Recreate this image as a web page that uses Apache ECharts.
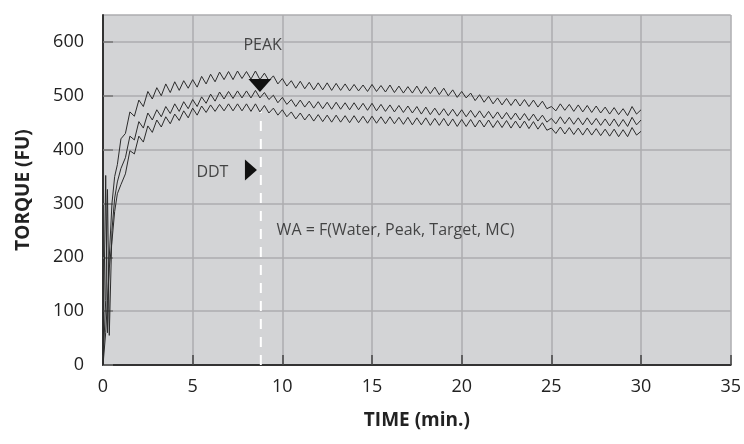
<!DOCTYPE html>
<html><head><meta charset="utf-8">
<script src="https://cdn.jsdelivr.net/npm/echarts@6/dist/echarts.min.js"></script>
<style>html,body{margin:0;padding:0;background:#fff}#c{width:744px;height:444px}</style>
</head><body><div id="c"></div>
<script>
var time = [0,0.15,0.25,0.35,0.5,0.65,0.8,
1,1.25,1.5,1.75,2,2.25,2.5,2.75,3,3.25,3.5,3.75,4,4.25,4.5,4.75,5,5.25,5.5,5.75,6,6.25,6.5,6.75,7,7.25,7.5,7.75,8,8.25,8.5,8.75,9,9.25,9.5,9.75,10,
10.25,10.5,10.75,11,11.25,11.5,11.75,12,12.25,12.5,12.75,13,13.25,13.5,13.75,14,14.25,14.5,14.75,15,15.25,15.5,15.75,16,16.25,16.5,16.75,17,17.25,17.5,17.75,18,18.25,18.5,18.75,19,19.25,19.5,19.75,20,
20.25,20.5,20.75,21,21.25,21.5,21.75,22,22.25,22.5,22.75,23,23.25,23.5,23.75,24,24.25,24.5,24.75,25,25.25,25.5,25.75,26,26.25,26.5,26.75,27,27.25,27.5,27.75,28,28.25,28.5,28.75,29,29.25,29.5,29.75,30];

var torqueHigh = [0,352,60,200,300,350,372,
420,430,470,462,492,480,508,494,515,500,522,506,526,510,528,514,530,516,536,522,540,526,544,530,545,530,546,532,545,531,546,530,542,528,537,522,532,
518,528,514,527,513,525,511,524,511,524,510,523,510,522,509,521,509,520,508,521,508,519,507,520,506,518,505,517,505,518,504,517,504,516,502,514,500,511,497,508,
496,505,491,502,488,499,485,496,483,495,482,494,481,493,480,492,479,490,476,480,472,485,473,484,471,483,470,482,469,481,468,479,466,478,465,476,463,480,466,474];

var torqueMid = [0,120,326,55,250,310,340,
365,385,425,418,452,440,468,455,474,461,480,467,485,471,489,476,493,480,498,486,503,490,507,494,508,495,509,496,509,496,510,496,506,493,501,487,497,
484,493,480,492,479,490,477,489,476,488,475,488,475,487,474,487,474,486,473,486,472,484,471,483,470,482,469,481,468,480,466,479,465,477,464,476,463,475,462,474,
461,473,460,472,459,471,458,470,457,469,456,468,455,467,454,466,453,464,451,458,448,461,448,460,447,459,446,459,446,458,445,457,444,457,443,456,443,460,446,455];

var torqueLow = [0,60,120,180,230,285,318,
335,355,398,392,425,414,444,432,455,442,461,448,466,454,472,459,477,464,481,469,483,471,484,472,485,472,485,472,485,471,485,470,482,468,477,464,474,
461,470,457,468,455,466,453,465,452,464,451,464,451,463,450,463,450,462,449,462,449,461,448,461,448,460,447,460,446,459,446,459,445,458,445,458,444,457,443,456,
443,456,442,455,442,455,441,454,441,454,440,453,440,453,439,452,438,450,436,440,430,442,429,441,428,440,427,440,427,439,426,438,425,438,424,437,424,441,427,434];

var xTicks = [0,5,10,15,20,25,30,35];
var yTicks = [0,100,200,300,400,500,600];

var peakTime = 8.75, peakLevel = 519;
var ddtTime = 8.25, ddtLevel = 362;
var dashTime = 8.8, dashTop = 472;
var notes = [[8.9, 594, 'PEAK', 'center'], [6.1, 358, 'DDT', 'center'], [9.68, 249, 'WA = F(Water, Peak, Target, MC)', 'left']];

function pairs(vals){ return vals.map(function(v,i){ return [time[i], v]; }); }

var FONT = '"Open Sans", "Noto Sans", sans-serif';
var chart = echarts.init(document.getElementById('c'), null, {renderer:'canvas'});
var lineStyle = {color:'#2b2b2b', width:1};
chart.setOption({
  animation:false,
  backgroundColor:'#ffffff',
  grid:{left:103, right:12, top:15, bottom:79, show:true, backgroundColor:'#d3d4d6', borderWidth:0},
  xAxis:{type:'value', min:0, max:35, interval:5,
    name:'TIME (min.)', nameLocation:'middle', nameGap:46,
    nameTextStyle:{fontFamily:FONT, fontSize:19, fontWeight:'bold', color:'#222'},
    axisLine:{show:true, onZero:false, lineStyle:{color:'#333', width:2}},
    axisTick:{show:true, inside:true, length:10, lineStyle:{color:'#444', width:1.5}},
    axisLabel:{fontFamily:FONT, fontSize:18, color:'#222', margin:13},
    splitLine:{show:true, lineStyle:{color:'#acadaf', width:1.5}}
  },
  yAxis:{type:'value', min:0, max:650, interval:100,
    name:'TORQUE (FU)', nameLocation:'middle', nameGap:70, nameRotate:90,
    nameTextStyle:{fontFamily:FONT, fontSize:19, fontWeight:'bold', color:'#222'},
    axisLine:{show:true, onZero:false, lineStyle:{color:'#333', width:2}},
    axisTick:{show:true, inside:true, length:10, lineStyle:{color:'#777', width:1.5}},
    axisLabel:{fontFamily:FONT, fontSize:18, color:'#222', margin:19, showMaxLabel:false},
    splitLine:{show:true, lineStyle:{color:'#acadaf', width:1.5}}
  },
  series:[
    {type:'line', data:[[dashTime,0],[dashTime,dashTop]], symbol:'none', z:1,
      lineStyle:{color:'#ffffff', width:2, type:[10,8]}},
    {type:'line', data:pairs(torqueHigh), symbol:'none', lineStyle:lineStyle, z:3},
    {type:'line', data:pairs(torqueMid), symbol:'none', lineStyle:lineStyle, z:3},
    {type:'line', data:pairs(torqueLow), symbol:'none', lineStyle:lineStyle, z:3},
    {type:'scatter', data:[[peakTime, peakLevel]], symbol:'triangle', symbolSize:[23,13], symbolRotate:180,
      itemStyle:{color:'#111', opacity:1}, z:5},
    {type:'scatter', data:[[ddtTime, ddtLevel]], symbol:'triangle', symbolSize:[21,12], symbolRotate:-90,
      itemStyle:{color:'#111', opacity:1}, z:5},
    {type:'scatter', symbolSize:0, z:6,
      data:notes.map(function(n){ return {value:[n[0], n[1]], name:n[2], label:{align:n[3]}}; }),
      label:{show:true, position:'inside', formatter:function(p){return p.name;},
        fontFamily:FONT, fontSize:16, color:'#1e1e1e'}}
  ]
});
</script></body></html>
